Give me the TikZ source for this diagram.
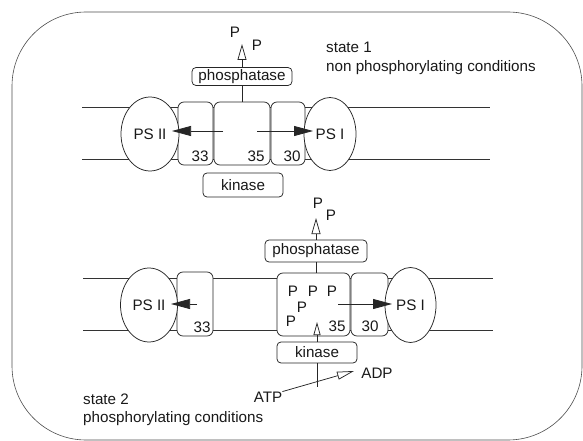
\documentclass[tikz,border=0pt]{standalone}
\usepackage{fontspec}
\setmainfont{Liberation Sans}
\usetikzlibrary{arrows.meta,shapes.geometric}
\begin{document}
\begin{tikzpicture}[x=1pt,y=-1pt,
  every node/.style={font=\fontsize{15.2}{18}\selectfont, inner sep=0pt, text=black!90},
  ln/.style={line width=0.75pt, draw=black!85},
  mem/.style={line width=0.6pt, draw=black!80},
  frame/.style={line width=0.6pt, draw=black!70, rounded corners=74pt},
  psys/.style={ellipse, ln, fill=white},
  sub/.style={rectangle, rounded corners=6pt, ln, fill=white},
  enz/.style={rectangle, rounded corners=4pt, ln, fill=white},
  fillarrow/.style={ln, -{Triangle[length=19pt,width=10pt]}},
  openarrow/.style={ln, -{Triangle[open,length=16pt,width=9pt]}},
  smallopen/.style={ln, -{Triangle[open,length=13pt,width=7pt]}},
  atparrow/.style={ln, -{Triangle[open,length=17pt,width=8pt]}}
]
\useasboundingbox (0,0) rectangle (583,441);
\draw[frame] (12,12) rectangle (582,440);

% ---------- state 1 ----------
\coordinate (m1a) at (82,107);  \coordinate (m1b) at (490,107);
\coordinate (m1c) at (82,159);  \coordinate (m1d) at (490,159);
\draw[mem] (m1a) -- (m1b);
\draw[mem] (m1c) -- (m1d);

\node[sub, minimum width=35pt, minimum height=63pt] (b33a) at (195.5,133.5) {};
\node[sub, minimum width=56pt, minimum height=63pt] (b35a) at (242,133.5) {};
\node[sub, minimum width=34pt, minimum height=63pt] (b30a) at (288,133.5) {};
\node[psys, minimum width=58pt, minimum height=74pt] (ps2a) at (150,134) {PS II};
\node[psys, minimum width=52pt, minimum height=73pt] (ps1a) at (330,134) {PS I};

\node (n33a) at (200,156) {33};
\node (n35a) at (256,156) {35};
\node (n30a) at (292,156) {30};

\coordinate (a1s) at (223,131); \coordinate (a1t) at (172,131);
\coordinate (a2s) at (257,131); \coordinate (a2t) at (313,131);
\draw[fillarrow] (a1s) -- (a1t);
\draw[fillarrow] (a2s) -- (a2t);

\node[enz, minimum width=100pt, minimum height=18pt] (ph1) at (242,76.5) {phosphatase};
\draw[ln] (ph1.south) -- (b35a.north);
\coordinate (ph1t) at (242,44);
\draw[openarrow] (ph1.north) -- (ph1t);
\node (P1a) at (235,32) {P};
\node (P1b) at (257,45) {P};

\node[enz, minimum width=80pt, minimum height=24pt] (k1) at (243,185) {kinase};

\node[anchor=west] (s1) at (326,47) {state 1};
\node[anchor=west] (s1c) at (326,68) {non phosphorylating conditions};

% ---------- state 2 ----------
\coordinate (m2a) at (83,278);  \coordinate (m2b) at (493,278);
\coordinate (m2c) at (83,330);  \coordinate (m2d) at (493,330);
\draw[mem] (m2a) -- (m2b);
\draw[mem] (m2c) -- (m2d);

\node[sub, minimum width=36pt, minimum height=64pt] (b33b) at (195,304) {};
\node[sub, minimum width=73pt, minimum height=63pt] (b35b) at (313.5,304.5) {};
\node[sub, minimum width=37pt, minimum height=63pt] (b30b) at (369.5,304.5) {};
\node[psys, minimum width=57pt, minimum height=74pt] (ps2b) at (149,305) {PS II};
\node[psys, minimum width=51pt, minimum height=75pt] (ps1b) at (410.5,305) {PS I};

\node (n33b) at (202,327) {33};
\node (n35b) at (337,326) {35};
\node (n30b) at (370,326) {30};

\node (P2a) at (293,291) {P};
\node (P2b) at (313,291) {P};
\node (P2c) at (332,291) {P};
\node (P2d) at (302,307) {P};
\node (P2e) at (291,321) {P};

\coordinate (a3s) at (197,304); \coordinate (a3t) at (171,304);
\coordinate (a4s) at (338,304); \coordinate (a4t) at (392,304);
\draw[fillarrow] (a3s) -- (a3t);
\draw[fillarrow] (a4s) -- (a4t);

\node[enz, minimum width=102pt, minimum height=22pt] (ph2) at (316,251) {phosphatase};
\draw[ln] (ph2.south) -- (ph2.south |- b35b.north);
\coordinate (ph2t) at (316,218);
\draw[openarrow] (ph2.north) -- (ph2t);
\node (P2f) at (318,203) {P};
\node (P2g) at (331,215) {P};

\node[enz, minimum width=80pt, minimum height=21pt] (k2) at (317,352.5) {kinase};
\coordinate (k2t) at (317,322);
\draw[smallopen] (k2.north) -- (k2t);
\coordinate (k2e) at (317,387);
\draw[ln] (k2.south) -- (k2e);

\node (atp) at (268,397) {ATP};
\node (adp) at (377,373) {ADP};
\coordinate (adpt) at (354,371);
\draw[atparrow] (atp.north east) -- (adpt);

\node[anchor=west] (s2) at (83,399) {state 2};
\node[anchor=west] (s2c) at (83,419) {phosphorylating conditions};
\end{tikzpicture}
\end{document}
